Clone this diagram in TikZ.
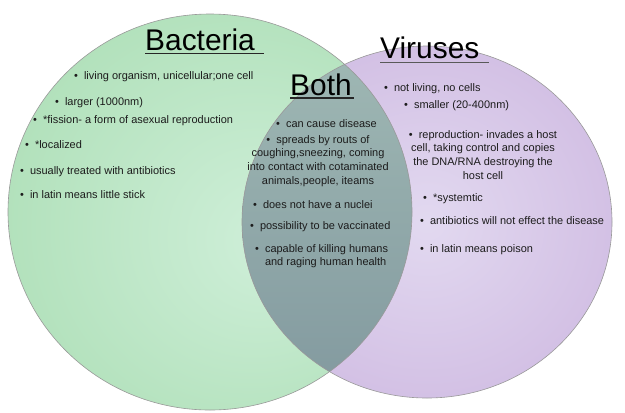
\documentclass[tikz,border=0pt]{standalone}
\usepackage{fontspec}
\setmainfont{Liberation Sans}
\usepackage{xcolor}
\usepackage{tikz}
\usetikzlibrary{positioning}

\definecolor{bactIn}{HTML}{CFEFD9}
\definecolor{bactOut}{HTML}{9DD7A6}
\definecolor{virIn}{HTML}{E2D9F0}
\definecolor{virOut}{HTML}{C4A8D9}
\definecolor{bothIn}{HTML}{A2BBB6}
\definecolor{bothOut}{HTML}{81989E}
\definecolor{inkgray}{HTML}{1C1C1C}

\pgfdeclareradialshading{bactshade}{\pgfpoint{8bp}{-4bp}}{color(0bp)=(bactIn); color(50bp)=(bactOut)}
\pgfdeclareradialshading{virshade}{\pgfpoint{0bp}{0bp}}{color(0bp)=(virIn); color(50bp)=(virOut)}

\newcommand{\bul}{\textbullet\hspace{6bp}}

\begin{document}
\begin{tikzpicture}[
  x=1bp, y=-1bp,
  set/.style={draw=gray!80, line width=0.6bp},
  title/.style={font=\fontsize{30}{34}\selectfont, inner sep=0pt, anchor=base west},
  uline/.style={line width=1.3bp, black!85},
  item/.style={font=\fontsize{11}{13.7}\selectfont, text=inkgray, inner sep=0pt, anchor=mid west},
  para/.style={font=\fontsize{11}{13.7}\selectfont, text=inkgray, inner sep=0pt, align=center, anchor=north}
]
  \useasboundingbox (0,0) rectangle (625,412);

  % the two sets
  \shade[shading=bactshade] (210,212) ellipse [x radius=202bp, y radius=198bp];
  \shade[shading=virshade]  (427,222) ellipse [x radius=185bp, y radius=176bp];
  \begin{scope}
    \clip (210,212) ellipse [x radius=202bp, y radius=198bp];
    \clip (427,222) ellipse [x radius=185bp, y radius=176bp];
    \shade[top color=bothIn, bottom color=bothOut] (230,10) rectangle (420,412);
  \end{scope}
  \draw[set] (210,212) ellipse [x radius=202bp, y radius=198bp];
  \draw[set] (427,222) ellipse [x radius=185bp, y radius=176bp];

  % headings
  \node[title] (bact) at (145,50) {Bacteria};
  \node[title] (vir)  at (380,58) {Viruses};
  \node[title] (both) at (290,95) {Both};
  \draw[uline] ([yshift=-3.5bp]bact.base west) -- ([xshift=9bp,yshift=-3.5bp]bact.base east);
  \draw[uline, black!65] ([yshift=-4.5bp]vir.base west) -- ([xshift=9bp,yshift=-4.5bp]vir.base east);
  \draw[uline] ([yshift=-3bp]both.base west) -- ([xshift=2bp,yshift=-3bp]both.base east);

  % bacteria
  \node[item] (b1) at (74,77)  {\bul living organism, unicellular;one cell};
  \node[item] (b2) at (55,103) {\bul larger (1000nm)};
  \node[item] (b3) at (33,121) {\bul *fission- a form of asexual reproduction};
  \node[item] (b4) at (25,146) {\bul *localized};
  \node[item] (b5) at (20,172) {\bul usually treated with antibiotics};
  \node[item] (b6) at (20,196) {\bul in latin means little stick};

  % both
  \node[item] (c1) at (276,125) {\bul can cause disease};
  \node[para] (c2) at (318,135) {\bul spreads by routs of\\coughing,sneezing, coming\\into contact with cotaminated\\animals,people, iteams};
  \node[item] (c3) at (253,206) {\bul does not have a nuclei};
  \node[item] (c4) at (250,227) {\bul possibility to be vaccinated};
  \node[para, align=left, anchor=north west] (c5) at (255,244) {\bul capable of killing humans\\\hphantom{\bul}and raging human health};

  % viruses
  \node[item] (v1) at (384,89)  {\bul not living, no cells};
  \node[item] (v2) at (404,106) {\bul smaller (20-400nm)};
  \node[para] (v3) at (483,130) {\bul reproduction- invades a host\\cell, taking control and copies\\the DNA/RNA destroying the\\host cell};
  \node[item] (v4) at (423,199) {\bul *systemtic};
  \node[item] (v5) at (420,222) {\bul antibiotics will not effect the disease};
  \node[item] (v6) at (420,250) {\bul in latin means poison};
\end{tikzpicture}
\end{document}
